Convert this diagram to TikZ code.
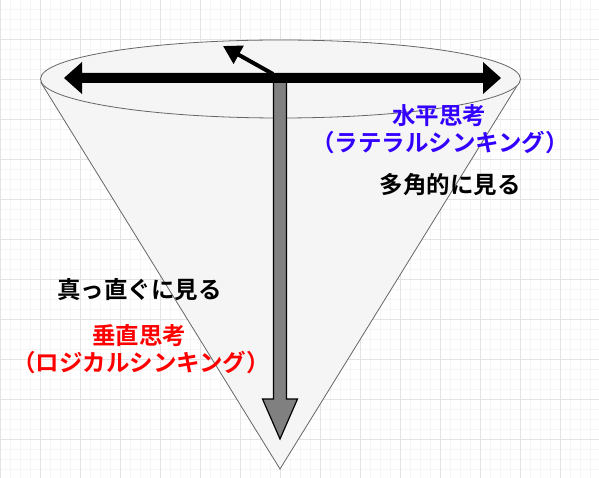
\documentclass[tikz,border=0pt]{standalone}
\usepackage{fontspec}
\newfontfamily\cjk{Noto Sans CJK JP}[BoldFont={Noto Sans CJK JP Bold}]
\usetikzlibrary{arrows.meta}
\definecolor{conefill}{HTML}{F5F5F5}
\definecolor{conestroke}{HTML}{666666}
\definecolor{gridmajor}{HTML}{E3E3E3}
\definecolor{gridminor}{HTML}{F5F5F5}
\definecolor{lateral}{HTML}{3300FF}
\definecolor{logical}{HTML}{FF0000}
\definecolor{shaftgray}{HTML}{808080}
\tikzset{
  lbl/.style={font=\cjk\bfseries\fontsize{23.5}{28}\selectfont, inner sep=0pt, align=center},
}
\begin{document}
\begin{tikzpicture}[x=1pt,y=-1pt]
\useasboundingbox (0,0) rectangle (599,478);
% grid
\foreach \i in {0,...,60} {\draw[gridminor,line width=0.8pt] (\i*10+0.5,0) -- (\i*10+0.5,478);}
\foreach \j in {0,...,48} {\draw[gridminor,line width=0.8pt] (0,\j*10-0.5) -- (599,\j*10-0.5);}
\foreach \i in {0,...,15} {\draw[gridmajor,line width=0.8pt] (\i*40+0.5,0) -- (\i*40+0.5,478);}
\foreach \j in {1,...,11} {\draw[gridmajor,line width=0.8pt] (0,\j*40-0.5) -- (599,\j*40-0.5);}
% cone
\coordinate (tip) at (280,469);
\coordinate (tl) at (41.2,82.9);
\coordinate (tr) at (518.8,82.9);
\draw[conestroke,fill=conefill,line width=0.8pt] (tl) -- (tip) -- (tr) -- cycle;
\draw[conestroke,fill=conefill,line width=0.8pt] (280.5,79) ellipse [x radius=240, y radius=39];
% vertical arrow
\draw[black,fill=shaftgray,line width=1.2pt] (273.5,80) -- (286.5,80) -- (286.5,399) -- (297.5,399) -- (280,439) -- (262.5,399) -- (273.5,399) -- cycle;
% horizontal double arrow
\fill[black] (64,78) -- (82,62) -- (82,73) -- (483,73) -- (483,62) -- (501,78) -- (483,94) -- (483,83) -- (82,83) -- (82,94) -- cycle;
% small arrow
\coordinate (sa) at (273,74);
\coordinate (sb) at (223,46);
\draw[line width=4pt,-{Triangle[length=18pt,width=20pt]}] (sa) -- (sb);
% labels
\node[lbl,text=lateral] (lat1) at (439,116) {水平思考};
\node[lbl,text=lateral] (lat2) at (440,142.5) {（ラテラルシンキング）};
\node[lbl] (multi) at (450,185) {多角的に見る};
\node[lbl] (straight) at (139.5,290) {真っ直ぐに見る};
\node[lbl,text=logical] (log1) at (139,336) {垂直思考};
\node[lbl,text=logical] (log2) at (141,362.5) {（ロジカルシンキング）};
\end{tikzpicture}
\end{document}
